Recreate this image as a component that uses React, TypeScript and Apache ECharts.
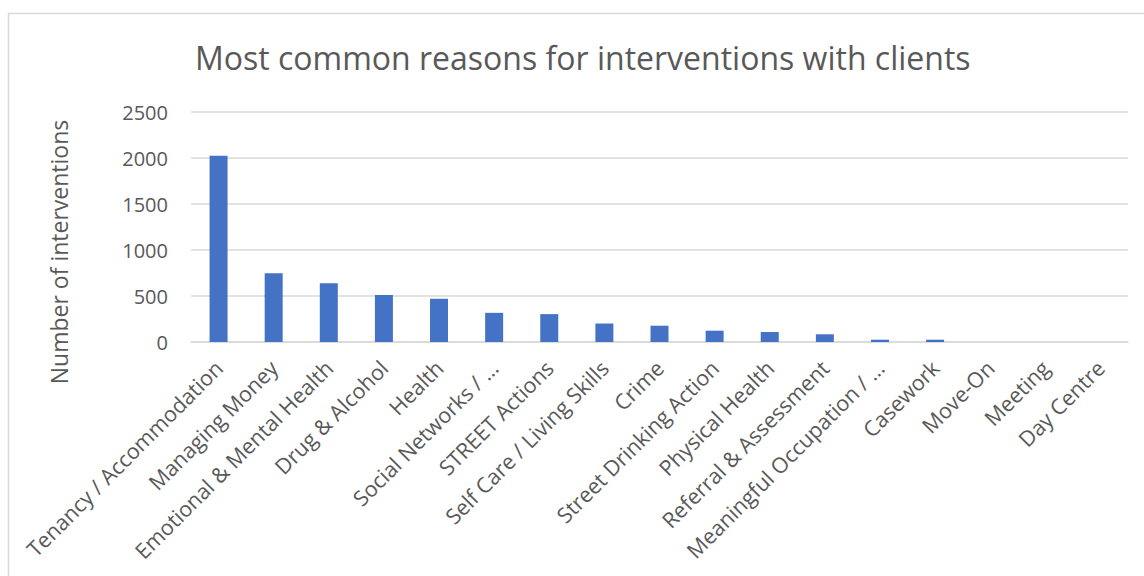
import React, { useEffect, useRef } from "react";
import * as echarts from "echarts";

const categories = [
  "Tenancy / Accommodation",
  "Managing Money",
  "Emotional & Mental Health",
  "Drug & Alcohol",
  "Health",
  "Social Networks / …",
  "STREET Actions",
  "Self Care / Living Skills",
  "Crime",
  "Street Drinking Action",
  "Physical Health",
  "Referral & Assessment",
  "Meaningful Occupation / …",
  "Casework",
  "Move-On",
  "Meeting",
  "Day Centre",
];
const values = [2025, 748, 639, 511, 470, 317, 303, 201, 177, 123, 109, 84, 25, 25, 0, 0, 0];
const yTicks = { min: 0, max: 2500, interval: 500 };
const titleText = "Most common reasons for interventions with clients";
const yAxisName = "Number of interventions";

const FONT = "'Open Sans', sans-serif";
const TEXT = "#595959";

export default function App() {
  const ref = useRef<HTMLDivElement>(null);
  useEffect(() => {
    if (!ref.current) return;
    const chart = echarts.init(ref.current, null, { renderer: "svg" });
    chart.setOption({
      animation: false,
      backgroundColor: "#ffffff",
      textStyle: { fontFamily: FONT },
      title: {
        text: titleText,
        left: 190,
        top: 36,
        textStyle: { fontFamily: FONT, fontSize: 32, fontWeight: "normal", color: TEXT },
      },
      graphic: [
        {
          type: "rect",
          shape: { x: 8.5, y: 13.5, width: 1200, height: 700 },
          style: { fill: "none", stroke: "#d9d9d9", lineWidth: 1.5 },
          silent: true,
        },
      ],
      grid: { left: 191, right: 16, top: 112, bottom: 234, containLabel: false },
      xAxis: {
        type: "category",
        data: categories,
        axisLine: { show: true, lineStyle: { color: "#d9d9d9", width: 1.5 } },
        axisTick: { show: false },
        axisLabel: {
          rotate: 45,
          interval: 0,
          margin: 22,
          fontFamily: FONT,
          fontSize: 21.5,
          color: TEXT,
        },
      },
      yAxis: {
        type: "value",
        min: yTicks.min,
        max: yTicks.max,
        interval: yTicks.interval,
        name: yAxisName,
        nameLocation: "middle",
        nameGap: 121,
        nameTextStyle: { fontFamily: FONT, fontSize: 23, color: TEXT, padding: [0, 50, 0, 0] },
        axisLine: { show: false },
        axisTick: { show: false },
        axisLabel: {
          margin: 23,
          fontFamily: FONT,
          fontSize: 20,
          color: TEXT,
          formatter: (v: number) => String(v),
        },
        splitLine: { lineStyle: { color: "#d9d9d9", width: 1.5 } },
      },
      series: [
        {
          type: "bar",
          data: values,
          barWidth: 18,
          itemStyle: { color: "#4472C4" },
        },
      ],
    });
    return () => chart.dispose();
  }, []);
  return (
    <div
      ref={ref}
      style={{ position: "fixed", left: 0, top: 0, width: 1144, height: 576 }}
    />
  );
}
